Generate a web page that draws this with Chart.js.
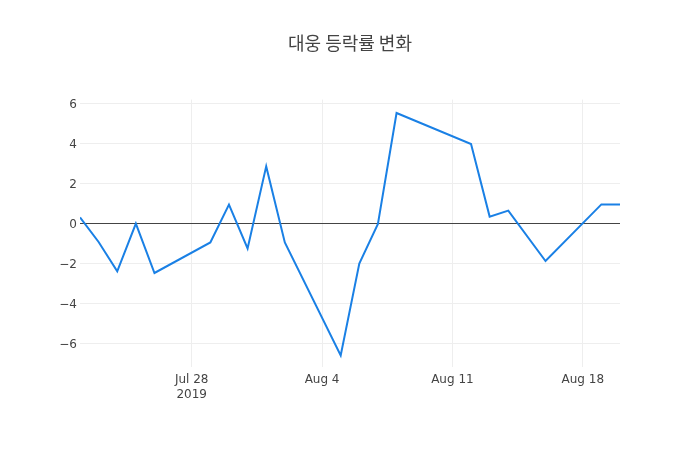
<!DOCTYPE html>
<html>
<head>
<meta charset="utf-8">
<script src="https://cdn.jsdelivr.net/npm/chart.js@4"></script>
<style>
  html, body { margin: 0; padding: 0; background: #fff; }
  #wrap { width: 700px; height: 450px; }
</style>
</head>
<body>
<div id="wrap"><canvas id="chart"></canvas></div>
<script>
const dates = ['2019-07-22','2019-07-23','2019-07-24','2019-07-25','2019-07-26',
  '2019-07-29','2019-07-30','2019-07-31','2019-08-01','2019-08-02',
  '2019-08-05','2019-08-06','2019-08-07','2019-08-08','2019-08-12',
  '2019-08-13','2019-08-14','2019-08-16','2019-08-19','2019-08-20'];
const changes = [0.28, -0.95, -2.42, -0.03, -2.5,
  -0.97, 0.92, -1.27, 2.83, -0.97,
  -6.62, -2.03, -0.05, 5.5, 3.95,
  0.32, 0.62, -1.9, 0.93, 0.92];
const xTickDates = ['2019-07-28','2019-08-04','2019-08-11','2019-08-18'];
const xTickLabels = [['Jul 28','2019'], 'Aug 4', 'Aug 11', 'Aug 18'];
const yTicks = [-6, -4, -2, 0, 2, 4, 6];

const DAY = 86400000;
const origin = Date.parse(dates[0]);
const toDay = d => (Date.parse(d) - origin) / DAY;
const points = dates.map((d, i) => ({ x: toDay(d), y: changes[i] }));
const xTickPos = xTickDates.map(toDay);

const font = '"DejaVu Sans", "Noto Sans CJK KR", sans-serif';
const titleFont = '"Noto Sans CJK KR", sans-serif';
Chart.defaults.font.family = font;
Chart.defaults.color = '#444';

const ctx = document.getElementById('chart').getContext('2d');
const myChart = new Chart(ctx, {
  type: 'line',
  data: {
    datasets: [{
      label: '등락률',
      data: points,
      borderColor: '#1a80e5',
      borderWidth: 2,
      pointRadius: 0,
      tension: 0,
      fill: false
    }]
  },
  options: {
    responsive: true,
    maintainAspectRatio: false,
    animation: false,
    layout: { padding: 0 },
    plugins: {
      legend: { display: false },
      tooltip: { enabled: false },
      title: {
        display: true,
        text: '대웅 등락률 변화',
        color: '#444',
        font: { size: 18, weight: 'normal', family: titleFont },
        padding: { top: 32, bottom: 46 }
      }
    },
    scales: {
      x: {
        type: 'linear',
        min: 0,
        max: toDay(dates[dates.length - 1]),
        afterBuildTicks: s => { s.ticks = xTickPos.map(v => ({ value: v })); },
        afterFit: s => { s.height = 83; },
        border: { display: false },
        grid: { color: '#eee', lineWidth: 1, drawTicks: false },
        ticks: {
          padding: 6,
          font: { size: 12 },
          color: '#444',
          maxRotation: 0,
          autoSkip: false,
          callback: (v) => {
            const i = xTickPos.indexOf(v);
            return i >= 0 ? xTickLabels[i] : '';
          }
        }
      },
      y: {
        min: -7.2,
        max: 6.17,
        afterBuildTicks: s => { s.ticks = yTicks.map(v => ({ value: v })); },
        afterFit: s => { s.width = 80; },
        border: { display: false },
        grid: {
          drawTicks: false,
          color: c => c.tick && c.tick.value === 0 ? '#444' : '#eee',
          lineWidth: 1
        },
        ticks: {
          padding: 3,
          labelOffset: 2,
          font: { size: 12 },
          color: '#444',
          callback: v => v < 0 ? '\u2212' + Math.abs(v) : String(v)
        }
      },
      yRight: {
        position: 'right',
        min: -7.2,
        max: 6.17,
        afterFit: s => { s.width = 80; },
        border: { display: false },
        grid: { display: false },
        ticks: { display: false }
      }
    }
  }
});
</script>
</body>
</html>
